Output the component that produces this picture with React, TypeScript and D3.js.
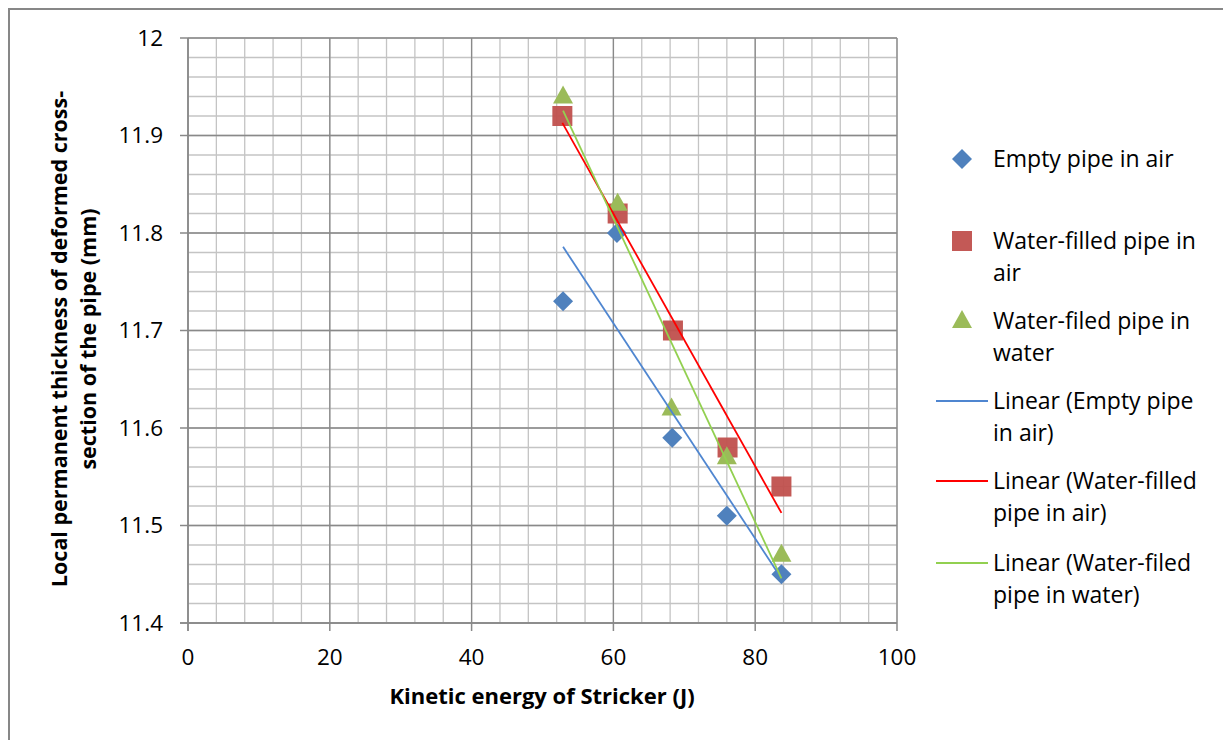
import React from 'react';
import * as d3 from 'd3';

// kinetic energy (J) for the five drops, per series
const emptyAirX = [52.9, 60.5, 68.3, 76.0, 83.7];
const emptyAirY = [11.73, 11.8, 11.59, 11.51, 11.45];
const waterAirX = [52.8, 60.6, 68.4, 76.1, 83.7];
const waterAirY = [11.92, 11.82, 11.7, 11.58, 11.54];
const waterWaterX = [52.9, 60.6, 68.2, 76.0, 83.7];
const waterWaterY = [11.94, 11.83, 11.62, 11.57, 11.47];

const xTicks = [0, 20, 40, 60, 80, 100];
const yTicks = [11.4, 11.5, 11.6, 11.7, 11.8, 11.9, 12];

const FONT = "'Open Sans', sans-serif";

const W = 1223;
const H = 740;
const plot = { left: 188, right: 897, top: 38, bottom: 623 };

// least squares fit, drawn over the data range like the Excel trendline
function fit(xs: number[], ys: number[]) {
  const mx = d3.mean(xs)!;
  const my = d3.mean(ys)!;
  let sxy = 0;
  let sxx = 0;
  xs.forEach((x, i) => {
    sxy += (x - mx) * (ys[i] - my);
    sxx += (x - mx) * (x - mx);
  });
  const b = sxy / sxx;
  const a = my - b * mx;
  const x0 = d3.min(xs)!;
  const x1 = d3.max(xs)!;
  return [
    [x0, a + b * x0],
    [x1, a + b * x1],
  ] as [number, number][];
}

export default function App() {
  const x = d3.scaleLinear().domain([0, 100]).range([plot.left, plot.right]);
  const y = d3.scaleLinear().domain([11.4, 12]).range([plot.bottom, plot.top]);

  const minorX = d3.range(0, 101, 4);
  const minorY = d3.range(0, 31).map((i) => 11.4 + i * 0.02);

  const series = [
    { xs: emptyAirX, ys: emptyAirY, fill: '#4F81BD', trend: '#4F86D0', shape: 'diamond' },
    { xs: waterAirX, ys: waterAirY, fill: '#C0504D', trend: '#FF0000', shape: 'square' },
    { xs: waterWaterX, ys: waterWaterY, fill: '#9BBB59', trend: '#92D050', shape: 'triangle' },
  ];

  const marker = (shape: string, cx: number, cy: number, fill: string, key?: string | number) => {
    if (shape === 'diamond') {
      const p = d3.path();
      p.moveTo(cx, cy - 10);
      p.lineTo(cx + 10, cy);
      p.lineTo(cx, cy + 10);
      p.lineTo(cx - 10, cy);
      p.closePath();
      return <path key={key} d={p.toString()} fill={fill} />;
    }
    if (shape === 'square') {
      return <rect key={key} x={cx - 10} y={cy - 10} width={20} height={20} fill={fill} fillOpacity={0.95} />;
    }
    const p = d3.path();
    p.moveTo(cx, cy - 11);
    p.lineTo(cx + 10, cy + 7);
    p.lineTo(cx - 10, cy + 7);
    p.closePath();
    return <path key={key} d={p.toString()} fill={fill} />;
  };

  const line = d3
    .line<[number, number]>()
    .x((d) => x(d[0]))
    .y((d) => y(d[1]));

  const legendItems = [
    { kind: 'marker', shape: 'diamond', color: '#4F81BD', lines: ['Empty pipe in air'], y: 159 },
    { kind: 'marker', shape: 'square', color: '#C0504D', lines: ['Water-filled pipe in', 'air'], y: 241 },
    { kind: 'marker', shape: 'triangle', color: '#9BBB59', lines: ['Water-filed pipe in', 'water'], y: 321 },
    { kind: 'line', color: '#4F86D0', lines: ['Linear (Empty pipe', 'in air)'], y: 401 },
    { kind: 'line', color: '#FF0000', lines: ['Linear (Water-filled', 'pipe in air)'], y: 481 },
    { kind: 'line', color: '#92D050', lines: ['Linear (Water-filed', 'pipe in water)'], y: 563 },
  ];

  return (
    <svg
      width={W}
      height={H}
      style={{ position: 'absolute', left: 0, top: 0, background: '#fff' }}
      fontFamily={FONT}
    >
      <rect x={9} y={9} width={W + 20} height={H + 20} fill="#fff" stroke="#878787" strokeWidth={2} />

      {/* minor grid */}
      {minorX.map((v) => (
        <line key={'mx' + v} x1={x(v)} x2={x(v)} y1={plot.top} y2={plot.bottom} stroke="#C4C4C4" strokeWidth={1.3} />
      ))}
      {minorY.map((v, i) => (
        <line key={'my' + i} x1={plot.left} x2={plot.right} y1={y(v)} y2={y(v)} stroke="#C4C4C4" strokeWidth={1.3} />
      ))}
      {/* major grid */}
      {xTicks.map((v) => (
        <line key={'gx' + v} x1={x(v)} x2={x(v)} y1={plot.top} y2={plot.bottom} stroke="#898989" strokeWidth={1.3} />
      ))}
      {yTicks.map((v) => (
        <line key={'gy' + v} x1={plot.left} x2={plot.right} y1={y(v)} y2={y(v)} stroke="#898989" strokeWidth={1.3} />
      ))}

      {/* axes */}
      <line x1={plot.left} x2={plot.left} y1={plot.top} y2={plot.bottom + 8} stroke="#898989" strokeWidth={1.5} />
      <line x1={plot.left - 8} x2={plot.right} y1={plot.bottom} y2={plot.bottom} stroke="#898989" strokeWidth={1.5} />
      {xTicks.map((v) => (
        <g key={'tx' + v}>
          <line x1={x(v)} x2={x(v)} y1={plot.bottom} y2={plot.bottom + 8} stroke="#898989" strokeWidth={1.5} />
          <text x={x(v)} y={plot.bottom + 42} textAnchor="middle" fontSize={22.5} fill="#000">
            {v}
          </text>
        </g>
      ))}
      {yTicks.map((v) => (
        <g key={'ty' + v}>
          <line x1={plot.left - 8} x2={plot.left} y1={y(v)} y2={y(v)} stroke="#898989" strokeWidth={1.5} />
          <text x={163} y={y(v)} dy="0.35em" textAnchor="end" fontSize={22.5} fill="#000">
            {d3.format('~g')(v)}
          </text>
        </g>
      ))}

      {/* markers */}
      {series.map((s, si) => (
        <g key={'s' + si}>{s.xs.map((v, i) => marker(s.shape, x(v), y(s.ys[i]), s.fill, i))}</g>
      ))}

      {/* trendlines */}
      {series.map((s, si) => (
        <path key={'t' + si} d={line(fit(s.xs, s.ys)) || ''} fill="none" stroke={s.trend} strokeWidth={1.8} />
      ))}

      {/* axis titles */}
      <text x={542} y={704} textAnchor="middle" fontSize={22} fontWeight="bold" fill="#000">
        Kinetic energy of Stricker (J)
      </text>
      <g transform="translate(59,339) rotate(-90)">
        <text x={0} y={0} textAnchor="middle" fontSize={21.5} fontWeight="bold" fill="#000" dy="0.35em">
          Local permanent thickness of deformed cross-
        </text>
        <text x={0} y={29} textAnchor="middle" fontSize={21.5} fontWeight="bold" fill="#000" dy="0.35em">
          section of the pipe (mm)
        </text>
      </g>

      {/* legend */}
      {legendItems.map((it, i) => (
        <g key={'lg' + i}>
          {it.kind === 'marker'
            ? marker(it.shape!, 962, it.y, it.color)
            : <line x1={936} x2={988} y1={it.y} y2={it.y} stroke={it.color} strokeWidth={2} />}
          {it.lines.map((t, j) => (
            <text key={j} x={993} y={it.y + j * 32} dy="0.35em" fontSize={23} fill="#000">
              {t}
            </text>
          ))}
        </g>
      ))}
    </svg>
  );
}
